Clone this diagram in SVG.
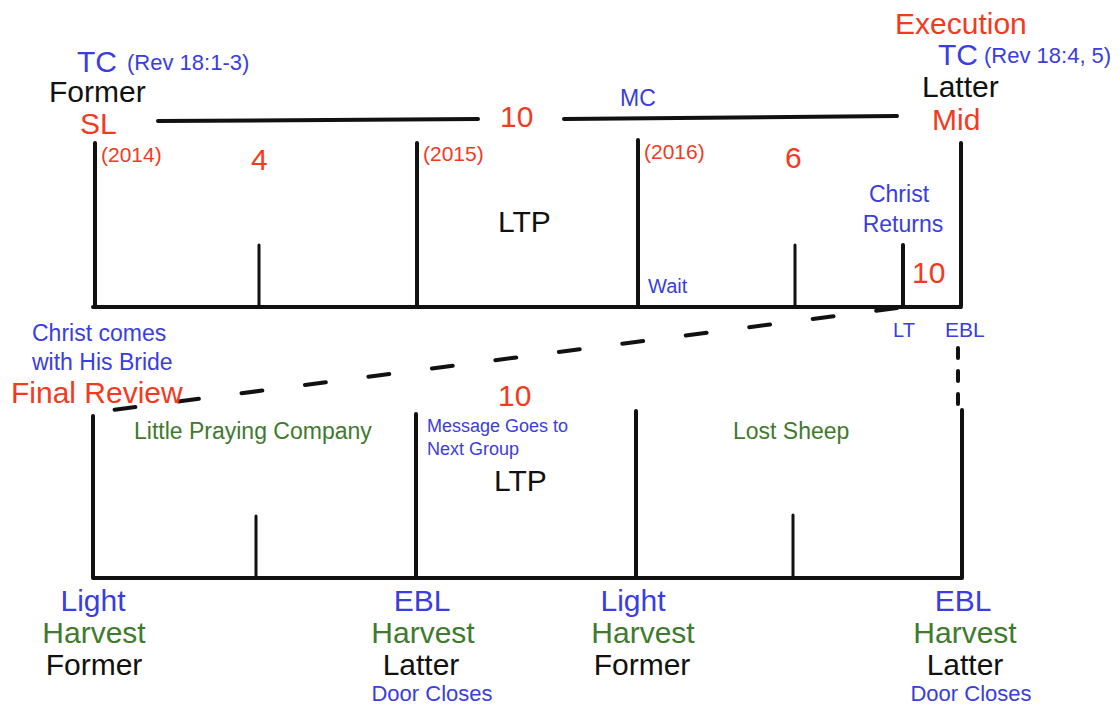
<svg xmlns="http://www.w3.org/2000/svg" width="1120" height="707" viewBox="0 0 1120 707">
<style>
text{font-family:"Liberation Sans",Arial,Helvetica,sans-serif}
.r{fill:#f23a1f}.b{fill:#3a3de0}.g{fill:#3f7a2e}.k{fill:#111}
.big{font-size:30px}.mid{font-size:23px}.sm{font-size:21px}.xs{font-size:18px}
.ln{stroke:#111;stroke-width:4;stroke-linecap:round;fill:none}
.tk{stroke:#111;stroke-width:3;stroke-linecap:round;fill:none}
.c{text-anchor:middle}
</style>
<rect width="1120" height="707" fill="#fff"/>
<g id="connectors">
<path class="ln" d="M158 121 L478 119"/>
<path class="ln" d="M564 119 L897 116"/>
<path class="ln" d="M95 143 V307 M417 143 V307 M638 140 V307 M961 143 V306 M93 307 H961"/>
<path class="tk" d="M259 245 V307 M795 245 V307"/>
<path class="ln" d="M903 245 V307"/>
<path class="ln" d="M897 308 L105 411" stroke-dasharray="21 43" stroke-linecap="butt" stroke-width="4.5"/>
<path class="ln" d="M958 348 V408" stroke-dasharray="10 13" stroke-linecap="butt"/>
<path class="ln" d="M93 416 V578 M416 414 V578 M636 411 V578 M962 410 V578 M93 578 H962"/>
<path class="tk" d="M256 516 V578 M793 515 V578"/>
</g>
<g id="tc-former">
<text class="b big" x="77" y="72" font-size="29">TC</text>
<text class="b sm" x="127" y="70" style="font-size:22px">(Rev 18:1-3)</text>
<text class="k big" x="49" y="102">Former</text>
<text class="r big" x="80" y="134">SL</text>
<text class="r sm" x="101" y="162">(2014)</text>
</g>
<g id="seg-4"><text class="r big" x="251" y="170">4</text></g>
<g id="seg-10-top"><text class="r big" x="500" y="127">10</text></g>
<g id="mc"><text class="b mid" x="620" y="106">MC</text></g>
<g id="y2015"><text class="r sm" x="423" y="161">(2015)</text></g>
<g id="y2016"><text class="r sm" x="644" y="159">(2016)</text></g>
<g id="seg-6"><text class="r big" x="785" y="168">6</text></g>
<g id="ltp-top"><text class="k big" x="498" y="232">LTP</text></g>
<g id="tc-latter">
<text class="r big" x="895" y="34">Execution</text>
<text class="b big" x="938" y="65">TC</text>
<text class="b sm" x="984" y="63" style="font-size:22px">(Rev 18:4, 5)</text>
<text class="k big" x="922" y="97">Latter</text>
<text class="r big" x="932" y="130">Mid</text>
</g>
<g id="christ-returns">
<text class="b mid c" x="899" y="202">Christ</text>
<text class="b mid c" x="903" y="232">Returns</text>
</g>
<g id="seg-10-right"><text class="r big" x="912" y="283">10</text></g>
<g id="wait"><text class="b sm" x="648" y="293" style="font-size:20px">Wait</text></g>
<g id="lt"><text class="b sm" x="893" y="337" style="font-size:20px">LT</text></g>
<g id="ebl-top"><text class="b sm" x="945" y="337">EBL</text></g>
<g id="final-review">
<text class="b mid" x="32" y="341">Christ comes</text>
<text class="b mid" x="32" y="370">with His Bride</text>
<text class="r big" x="11" y="403">Final Review</text>
</g>
<g id="seg-10-bottom"><text class="r big" x="498" y="406">10</text></g>
<g id="lpc"><text class="g mid" x="134" y="439">Little Praying Company</text></g>
<g id="message">
<text class="b xs" x="427" y="432">Message Goes to</text>
<text class="b xs" x="427" y="455">Next Group</text>
</g>
<g id="ltp-bottom"><text class="k big" x="494" y="491">LTP</text></g>
<g id="lost-sheep"><text class="g mid" x="733" y="439">Lost Sheep</text></g>
<g id="bottom-1">
<text class="b big c" x="93" y="611">Light</text>
<text class="g big c" x="94" y="643">Harvest</text>
<text class="k big c" x="94" y="675">Former</text>
</g>
<g id="bottom-2">
<text class="b big c" x="422" y="611">EBL</text>
<text class="g big c" x="423" y="643">Harvest</text>
<text class="k big c" x="421" y="675">Latter</text>
<text class="b mid c" x="432" y="701" style="font-size:22px">Door Closes</text>
</g>
<g id="bottom-3">
<text class="b big c" x="633" y="611">Light</text>
<text class="g big c" x="643" y="643">Harvest</text>
<text class="k big c" x="642" y="675">Former</text>
</g>
<g id="bottom-4">
<text class="b big c" x="963" y="611">EBL</text>
<text class="g big c" x="965" y="643">Harvest</text>
<text class="k big c" x="965" y="675">Latter</text>
<text class="b mid c" x="971" y="701" style="font-size:22px">Door Closes</text>
</g>
</svg>
